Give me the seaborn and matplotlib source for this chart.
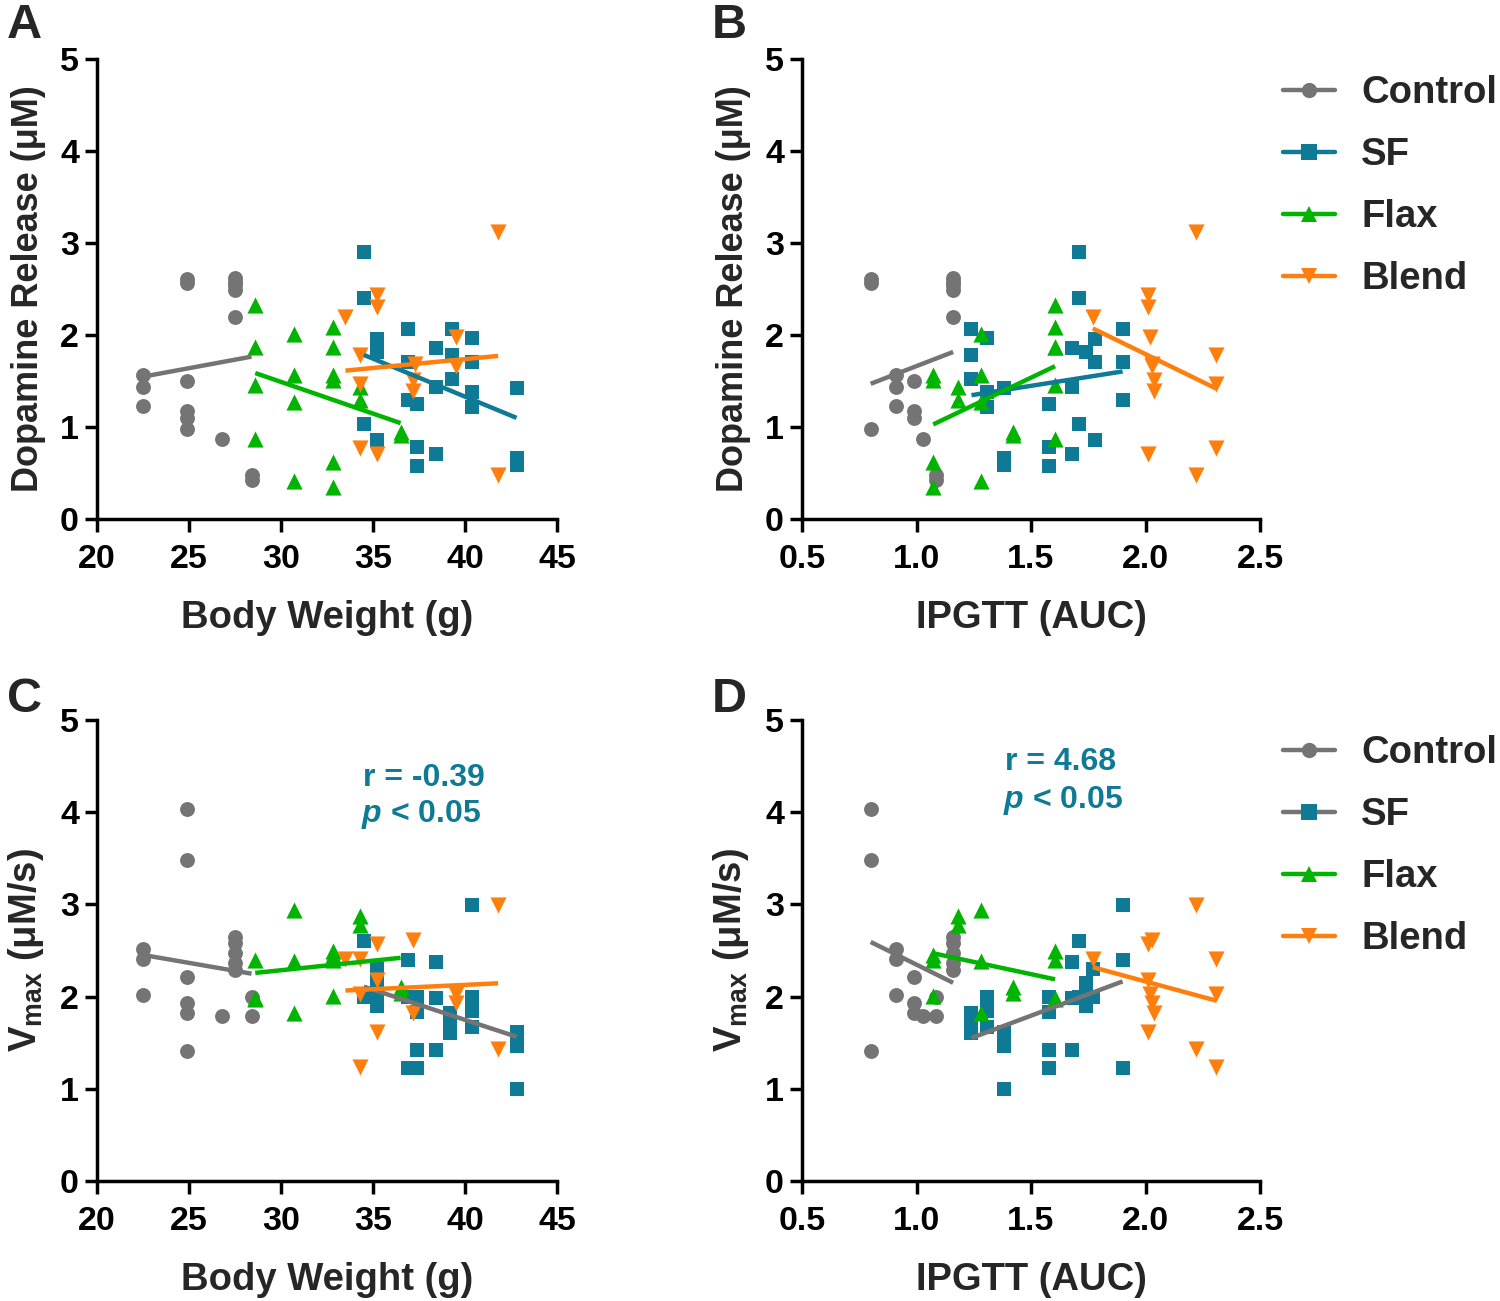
import numpy as np
import pandas as pd
import matplotlib
matplotlib.use("Agg")
import matplotlib.pyplot as plt
from matplotlib.lines import Line2D
import seaborn as sns

groups = ["Control", "SF", "Flax", "Blend"]

# --- dopamine release (top row): body weight, IPGTT AUC, DA release ---
ctrl_bw_top = [22.5, 22.5, 22.5, 24.9, 24.9, 24.9, 24.9, 24.9, 24.9, 26.8, 27.5, 27.5, 27.5, 27.5, 27.5, 28.4, 28.4]
ctrl_gtt_top = [0.91, 0.91, 0.91, 0.80, 0.80, 0.80, 0.99, 0.99, 0.99, 1.03, 1.16, 1.16, 1.16, 1.16, 1.16, 1.085, 1.085]
ctrl_da = [1.56, 1.44, 1.23, 2.61, 2.56, 0.98, 1.50, 1.17, 1.10, 0.87, 2.62, 2.58, 2.54, 2.49, 2.20, 0.48, 0.42]

sf_bw_top = [34.5, 34.5, 34.5, 35.2, 35.2, 35.2, 36.9, 36.9, 36.9, 37.4, 37.4, 37.4, 38.4, 38.4, 38.4,
             39.3, 39.3, 39.3, 40.4, 40.4, 40.4, 40.4, 42.8, 42.8, 42.8]
sf_gtt_top = [1.71, 1.71, 1.71, 1.78, 1.74, 1.78, 1.90, 1.90, 1.90, 1.58, 1.58, 1.58, 1.68, 1.68, 1.68,
              1.24, 1.24, 1.24, 1.31, 1.78, 1.31, 1.31, 1.38, 1.38, 1.38]
sf_da = [2.90, 2.40, 1.03, 1.96, 1.81, 0.86, 2.07, 1.71, 1.29, 1.25, 0.78, 0.58, 1.86, 1.43, 0.71,
         2.07, 1.78, 1.52, 1.97, 1.71, 1.38, 1.22, 1.42, 0.66, 0.59]

flax_bw_top = [28.6, 28.6, 28.6, 28.6, 30.7, 30.7, 30.7, 30.7, 32.8, 32.8, 32.8, 32.8, 32.8, 32.8,
               34.3, 34.3, 36.5, 36.5]
flax_gtt_top = [1.605, 1.605, 1.605, 1.605, 1.28, 1.28, 1.28, 1.28, 1.605, 1.605, 1.073, 1.073, 1.073, 1.073,
                1.18, 1.18, 1.42, 1.42]
flax_da = [2.33, 1.87, 1.46, 0.87, 2.01, 1.56, 1.27, 0.41, 2.09, 1.87, 1.56, 1.51, 0.62, 0.35,
           1.44, 1.29, 0.95, 0.91]

blend_bw_top = [41.8, 35.2, 35.2, 33.5, 34.3, 39.5, 39.5, 37.3, 37.2, 37.2, 34.3, 34.3, 35.2, 41.8]
blend_gtt_top = [2.22, 2.01, 2.01, 1.77, 2.31, 2.02, 2.03, 2.03, 2.035, 2.035, 2.31, 2.31, 2.01, 2.22]
blend_da = [3.12, 2.43, 2.30, 2.20, 1.78, 1.98, 1.66, 1.69, 1.51, 1.39, 1.47, 0.77, 0.71, 0.48]

# --- Vmax (bottom row) ---
ctrl_bw_bot = [22.5, 22.5, 22.5, 24.9, 24.9, 24.9, 24.9, 24.9, 24.9, 26.8, 27.5, 27.5, 27.5, 27.5, 27.5, 28.4, 28.4]
ctrl_gtt_bot = [0.91, 0.91, 0.91, 0.80, 0.80, 0.80, 0.99, 0.99, 0.99, 1.03, 1.16, 1.16, 1.16, 1.16, 1.16, 1.085, 1.085]
ctrl_vmax = [2.52, 2.41, 2.02, 4.04, 3.48, 1.41, 2.21, 1.93, 1.82, 1.79, 2.65, 2.58, 2.47, 2.36, 2.29, 2.00, 1.79]

sf_bw_bot = [34.5, 34.5, 35.2, 35.2, 35.2, 35.2, 36.9, 36.9, 36.9, 37.4, 37.4, 37.4, 37.4,
             38.4, 38.4, 38.4, 39.2, 39.2, 39.2, 40.4, 40.4, 40.4, 40.4, 42.8, 42.8, 42.8]
sf_gtt_bot = [1.71, 1.71, 1.77, 1.74, 1.77, 1.74, 1.90, 1.77, 1.90, 1.58, 1.58, 1.58, 1.58,
              1.68, 1.68, 1.68, 1.24, 1.24, 1.24, 1.31, 1.31, 1.31, 1.90, 1.38, 1.38, 1.38]
sf_vmax = [2.60, 2.00, 2.30, 2.15, 2.00, 1.90, 2.40, 2.00, 1.23, 2.00, 1.83, 1.42, 1.23,
           2.37, 1.98, 1.42, 1.82, 1.70, 1.60, 2.00, 1.84, 1.67, 2.99, 1.62, 1.46, 1.00]

flax_bw_bot = [28.6, 28.6, 28.6, 30.7, 30.7, 30.7, 32.8, 32.8, 32.8, 32.8, 34.3, 34.3, 36.5, 36.5]
flax_gtt_bot = [1.605, 1.605, 1.605, 1.28, 1.28, 1.28, 1.605, 1.073, 1.073, 1.073, 1.18, 1.18, 1.42, 1.42]
flax_vmax = [2.40, 1.98, 1.97, 2.94, 2.39, 1.82, 2.49, 2.45, 2.40, 2.01, 2.87, 2.78, 2.10, 2.04]

blend_bw_bot = [41.8, 41.8, 35.2, 35.2, 35.2, 37.2, 37.2, 39.5, 39.5, 33.5, 34.3, 34.3, 34.3]
blend_gtt_bot = [2.22, 2.22, 2.01, 2.01, 2.01, 2.03, 2.035, 2.02, 2.027, 1.77, 2.31, 2.31, 2.31]
blend_vmax = [2.99, 1.43, 2.57, 2.18, 1.62, 2.61, 1.82, 2.03, 1.93, 2.41, 2.41, 2.03, 1.24]

top = {
    "Control": pd.DataFrame({"bw": ctrl_bw_top, "gtt": ctrl_gtt_top, "y": ctrl_da}),
    "SF": pd.DataFrame({"bw": sf_bw_top, "gtt": sf_gtt_top, "y": sf_da}),
    "Flax": pd.DataFrame({"bw": flax_bw_top, "gtt": flax_gtt_top, "y": flax_da}),
    "Blend": pd.DataFrame({"bw": blend_bw_top, "gtt": blend_gtt_top, "y": blend_da}),
}
bottom = {
    "Control": pd.DataFrame({"bw": ctrl_bw_bot, "gtt": ctrl_gtt_bot, "y": ctrl_vmax}),
    "SF": pd.DataFrame({"bw": sf_bw_bot, "gtt": sf_gtt_bot, "y": sf_vmax}),
    "Flax": pd.DataFrame({"bw": flax_bw_bot, "gtt": flax_gtt_bot, "y": flax_vmax}),
    "Blend": pd.DataFrame({"bw": blend_bw_bot, "gtt": blend_gtt_bot, "y": blend_vmax}),
}

GRAY = "#747474"
TEAL = "#0E7A95"
GREEN = "#00B400"
ORANGE = "#FF7F0E"
colors = {"Control": GRAY, "SF": TEAL, "Flax": GREEN, "Blend": ORANGE}
markers = {"Control": "o", "SF": "s", "Flax": "^", "Blend": "v"}
# bottom row draws the SF fit line in gray, like the original
line_top = dict(colors)
line_bot = dict(colors, SF=GRAY)

sns.set_style("ticks")
plt.rcParams["font.family"] = ["Liberation Sans", "DejaVu Sans"]
plt.rcParams["font.weight"] = "bold"
plt.rcParams["axes.labelweight"] = "bold"
plt.rcParams["mathtext.fontset"] = "custom"
plt.rcParams["mathtext.rm"] = "Liberation Sans:bold"
plt.rcParams["mathtext.bf"] = "Liberation Sans:bold"
plt.rcParams["mathtext.it"] = "Liberation Sans:bold:italic"
plt.rcParams["mathtext.default"] = "bf"

fig = plt.figure(figsize=(15, 13.01), dpi=100)
W, H = 1500, 1301


def add_ax(x0, x1, y_top, y_bot):
    return fig.add_axes([x0 / W, 1 - y_bot / H, (x1 - x0) / W, (y_bot - y_top) / H])


ax_a = add_ax(97, 557, 59, 519)
ax_b = add_ax(802, 1260, 59, 519)
ax_c = add_ax(97, 557, 720, 1181)
ax_d = add_ax(802, 1260, 720, 1181)


def draw(ax, frames, xcol, line_colors):
    for g in groups:
        d = frames[g]
        sns.scatterplot(data=d, x=xcol, y="y", ax=ax, marker=markers[g], color=colors[g],
                        s=135 if g in ("Flax", "Blend") else 115, linewidth=0, zorder=3, legend=False)
        sns.regplot(data=d, x=xcol, y="y", ax=ax, scatter=False, ci=None, truncate=True,
                    line_kws=dict(color=line_colors[g], lw=3.2, solid_capstyle="butt", zorder=4))


def style(ax, xcol, ylabel, ysize):
    ax.set_ylim(0, 5)
    ax.set_yticks(range(0, 6))
    if xcol == "bw":
        ax.set_xlim(20, 45)
        ax.set_xticks(range(20, 46, 5))
        ax.set_xlabel("Body Weight (g)", fontsize=27.5, labelpad=18)
    else:
        ax.set_xlim(0.5, 2.5)
        ax.set_xticks([0.5, 1.0, 1.5, 2.0, 2.5])
        ax.set_xticklabels(["0.5", "1.0", "1.5", "2.0", "2.5"])
        ax.set_xlabel("IPGTT (AUC)", fontsize=27.5, labelpad=18)
    ax.set_ylabel(ylabel, fontsize=ysize, labelpad=10)
    sns.despine(ax=ax)
    for side in ("left", "bottom"):
        ax.spines[side].set_linewidth(2.5)
        ax.spines[side].set_color("black")
    ax.tick_params(direction="out", length=9, width=2.5, labelsize=24.5, colors="black")
    ax.tick_params(axis="x", pad=9)
    ax.tick_params(axis="y", pad=4)


draw(ax_a, top, "bw", line_top)
draw(ax_b, top, "gtt", line_top)
draw(ax_c, bottom, "bw", line_bot)
draw(ax_d, bottom, "gtt", line_bot)

style(ax_a, "bw", "Dopamine Release (μM)", 26)
style(ax_b, "gtt", "Dopamine Release (μM)", 26)
style(ax_c, "bw", "V$_{max}$ (μM/s)", 27.5)
style(ax_d, "gtt", "V$_{max}$ (μM/s)", 27.5)

# correlation notes
ax_c.text(34.45, 4.37, "r = -0.39", color=TEAL, fontsize=23, va="center", ha="left")
ax_c.text(34.35, 3.97, "$\\mathit{p}$ < 0.05", color=TEAL, fontsize=23, va="center", ha="left")
ax_d.text(1.385, 4.54, "r = 4.68", color=TEAL, fontsize=23, va="center", ha="left")
ax_d.text(1.378, 4.13, "$\\mathit{p}$ < 0.05", color=TEAL, fontsize=23, va="center", ha="left")


def legend_handles(line_colors):
    return [Line2D([0], [0], color=line_colors[g], lw=3.2, marker=markers[g], markersize=11,
                   markerfacecolor=colors[g], markeredgewidth=0, label=g) for g in groups]


for ax, lc, ytop in ((ax_b, line_top, 75), (ax_d, line_bot, 735)):
    ax.legend(handles=legend_handles(lc), loc="upper left", bbox_to_anchor=(1283 / W, 1 - ytop / H),
              bbox_transform=fig.transFigure, frameon=False, fontsize=27.5, handlelength=1.35,
              handletextpad=0.7, labelspacing=0.68, borderaxespad=0, borderpad=0)

for letter, x, y in (("A", 7, 38), ("B", 712, 38), ("C", 7, 712), ("D", 712, 712)):
    fig.text(x / W, 1 - y / H, letter, fontsize=35, fontweight="bold", va="baseline", ha="left")

fig.savefig("out.png", dpi=100)
